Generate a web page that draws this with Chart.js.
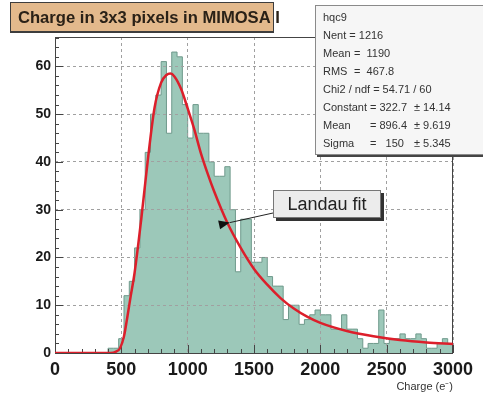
<!DOCTYPE html>
<html>
<head>
<meta charset="utf-8">
<script src="https://cdn.jsdelivr.net/npm/chart.js@4.4.0/dist/chart.umd.min.js"></script>
<style>
html, body { margin: 0; padding: 0; background: #fff; }
#wrap { position: relative; width: 483px; height: 395px; }
</style>
</head>
<body>
<div id="wrap"><canvas id="chart" width="483" height="395"></canvas></div>
<script>
// histogram hqc9 : 75 bins of 40 e- between 0 and 3000
const binWidth = 40;
const binCounts = [
    0, 0, 0, 0, 0, 0, 0, 0, 0, 0,
    1, 1, 3, 12, 15, 22, 30, 42, 50, 54,
    61, 46, 63, 62, 52, 45, 52, 46, 46, 40,
    37, 37, 39, 30, 17, 28, 28, 19, 19, 20,
    16, 14, 14, 7, 10, 10, 6, 7, 8, 9,
    8, 8, 5, 5, 8, 5, 5, 3, 1, 2,
    2, 9, 2, 3, 3, 4, 3, 3, 4, 3,
    1, 1, 2, 3, 2
];

// Landau fit
const fitX = [0, 420, 460, 490, 520, 545, 570, 600, 650, 700, 750, 800, 840, 870, 900, 950,
    1000, 1050, 1100, 1150, 1200, 1300, 1400, 1500, 1600, 1700, 1800, 1900, 2000,
    2200, 2400, 2600, 2800, 3000];
const fitY = [0, 0, 0.3, 1.0, 3.5, 7.5, 11.8, 16.8, 28, 40.5, 51.3, 56.6, 58.2, 58.5, 57.9, 55.3,
    51.2, 46.8, 41.8, 37.6, 33.8, 27.2, 22.0, 17.6, 14.3, 11.5, 9.3, 7.6, 6.3,
    4.6, 3.5, 2.7, 2.2, 1.9];

const xRange = [0, 3000];
const yRange = [0, 66.15];
const xStep = 500;
const yStep = 10;

// stats box: [text, x] pieces per line
const statsLines = [
    [['hqc9', 323]],
    [['Nent = 1216', 323]],
    [['Mean', 323], ['=  1190', 354]],
    [['RMS', 323], ['=  467.8', 354]],
    [['Chi2 / ndf = 54.71 / 60', 323]],
    [['Constant', 323], ['= 322.7', 370], ['\u00b1 14.14', 414]],
    [['Mean', 323], ['= 896.4', 370], ['\u00b1 9.619', 414]],
    [['Sigma', 323], ['=   150', 370], ['\u00b1 5.345', 414]]
];

const FONT = "'Liberation Sans', Arial, sans-serif";

// histogram as a stepped outline
const histPoints = binCounts.map((c, i) => ({x: i * binWidth, y: c}));
histPoints.push({x: binCounts.length * binWidth, y: binCounts[binCounts.length - 1]});
const fitPoints = fitX.map((x, i) => ({x: x, y: fitY[i]}));

const rootStyle = {
    id: 'rootStyle',
    beforeDatasetDraw(chart, args) {
        if (args.index !== 1) return;
        const ctx = chart.ctx;
        const a = chart.chartArea;
        const xs = chart.scales.x, ys = chart.scales.y;
        // grid again, on top of the histogram
        xs.drawGrid(a);
        ys.drawGrid(a);
        ctx.save();
        ctx.strokeStyle = '#444';
        ctx.lineWidth = 1;
        ctx.strokeRect(a.left + 0.5, a.top + 0.5, a.right - a.left - 1, a.bottom - a.top);
        // small ticks
        ctx.beginPath();
        for (let v = 0; v <= yRange[1]; v += 2) {
            const py = Math.round(ys.getPixelForValue(v)) + 0.5;
            const len = v % 10 === 0 ? 8 : 4;
            ctx.moveTo(a.left, py);
            ctx.lineTo(a.left + len, py);
        }
        for (let v = 0; v <= xRange[1]; v += 100) {
            const px = Math.round(xs.getPixelForValue(v)) + 0.5;
            const len = v % 500 === 0 ? 8 : 4;
            ctx.moveTo(px, a.bottom);
            ctx.lineTo(px, a.bottom - len);
        }
        ctx.stroke();
        ctx.restore();
    },
    afterDraw(chart) {
        const ctx = chart.ctx;
        const xs = chart.scales.x, ys = chart.scales.y;
        ctx.save();

        // title pave
        ctx.fillStyle = '#e3b98c';
        ctx.fillRect(10, 2, 264, 30);
        ctx.fillStyle = '#3d3d3d';
        ctx.fillRect(10, 31, 264, 2);
        ctx.strokeStyle = '#3d3d3d';
        ctx.lineWidth = 1;
        ctx.strokeRect(10.5, 2.5, 263, 30);
        ctx.fillStyle = '#2a2117';
        ctx.font = 'bold 16.6px ' + FONT;
        ctx.textBaseline = 'alphabetic';
        ctx.textAlign = 'left';
        ctx.fillText('Charge in 3x3 pixels in MIMOSA I', 18, 23);

        // stats box
        ctx.fillStyle = '#444';
        ctx.fillRect(317, 154, 170, 3);
        ctx.fillStyle = '#f6f6f6';
        ctx.fillRect(315, 5, 170, 150);
        ctx.strokeStyle = '#8a8a8a';
        ctx.strokeRect(315.5, 5.5, 170, 149);
        ctx.fillStyle = '#333';
        ctx.font = '11px ' + FONT;
        statsLines.forEach((parts, i) => {
            const y = 21 + i * 18;
            parts.forEach(p => ctx.fillText(p[0], p[1], y));
        });

        // "Landau fit" label with arrow
        ctx.fillStyle = '#333';
        ctx.fillRect(276, 193, 108, 28);
        ctx.fillStyle = '#ececec';
        ctx.fillRect(273, 190, 108, 28);
        ctx.strokeStyle = '#777';
        ctx.strokeRect(273.5, 190.5, 107, 27);
        ctx.fillStyle = '#222';
        ctx.font = '18px ' + FONT;
        ctx.textAlign = 'center';
        ctx.textBaseline = 'middle';
        ctx.fillText('Landau fit', 327, 205);

        const tipX = xs.getPixelForValue(1318);
        const tipY = ys.getPixelForValue(27.3);
        const fromX = 273, fromY = 213;
        const ang = Math.atan2(tipY - fromY, tipX - fromX);
        ctx.strokeStyle = '#222';
        ctx.lineWidth = 1;
        ctx.beginPath();
        ctx.moveTo(fromX, fromY);
        ctx.lineTo(tipX, tipY);
        ctx.stroke();
        ctx.fillStyle = '#111';
        ctx.beginPath();
        ctx.moveTo(tipX, tipY);
        ctx.lineTo(tipX + 11 * Math.cos(ang) - 4.5 * Math.sin(ang), tipY + 11 * Math.sin(ang) + 4.5 * Math.cos(ang));
        ctx.lineTo(tipX + 11 * Math.cos(ang) + 4.5 * Math.sin(ang), tipY + 11 * Math.sin(ang) - 4.5 * Math.cos(ang));
        ctx.closePath();
        ctx.fill();
        ctx.restore();
    }
};

new Chart(document.getElementById('chart'), {
    type: 'line',
    data: {
        datasets: [{
            label: 'hqc9',
            data: histPoints,
            stepped: true,
            fill: 'origin',
            backgroundColor: '#9cc8b9',
            borderColor: '#6f9a8c',
            borderWidth: 1,
            pointRadius: 0,
            order: 2
        }, {
            label: 'Landau fit',
            data: fitPoints,
            borderColor: '#dc1f2b',
            borderWidth: 2.5,
            pointRadius: 0,
            fill: false,
            cubicInterpolationMode: 'monotone',
            order: 1
        }]
    },
    options: {
        responsive: false,
        animation: false,
        layout: { padding: { top: 37, right: 30, bottom: 0, left: 0 } },
        plugins: { legend: { display: false }, tooltip: { enabled: false } },
        scales: {
            x: {
                type: 'linear',
                min: xRange[0],
                max: xRange[1],
                ticks: {
                    stepSize: xStep,
                    color: '#1a1a1a',
                    font: { family: FONT, size: 18, weight: 'bold' },
                    padding: 6,
                    maxRotation: 0,
                    autoSkip: false,
                    callback: v => String(v)
                },
                grid: { color: '#a0a0a0', lineWidth: 1, drawTicks: false },
                border: { display: false, dash: [3, 3] },
                title: {
                    display: true,
                    text: 'Charge (e\u207b)',
                    align: 'end',
                    color: '#333',
                    font: { family: FONT, size: 11 },
                    padding: { top: 0, bottom: 1 }
                },
                afterFit(s) { s.height = 42; }
            },
            y: {
                type: 'linear',
                min: yRange[0],
                max: yRange[1],
                ticks: {
                    stepSize: yStep,
                    includeBounds: false,
                    color: '#1a1a1a',
                    font: { family: FONT, size: 14, weight: 'bold' },
                    padding: 4
                },
                grid: { color: '#a0a0a0', lineWidth: 1, drawTicks: false },
                border: { display: false, dash: [3, 3] },
                afterFit(s) { s.width = 55; }
            }
        }
    },
    plugins: [rootStyle]
});
</script>
</body>
</html>
